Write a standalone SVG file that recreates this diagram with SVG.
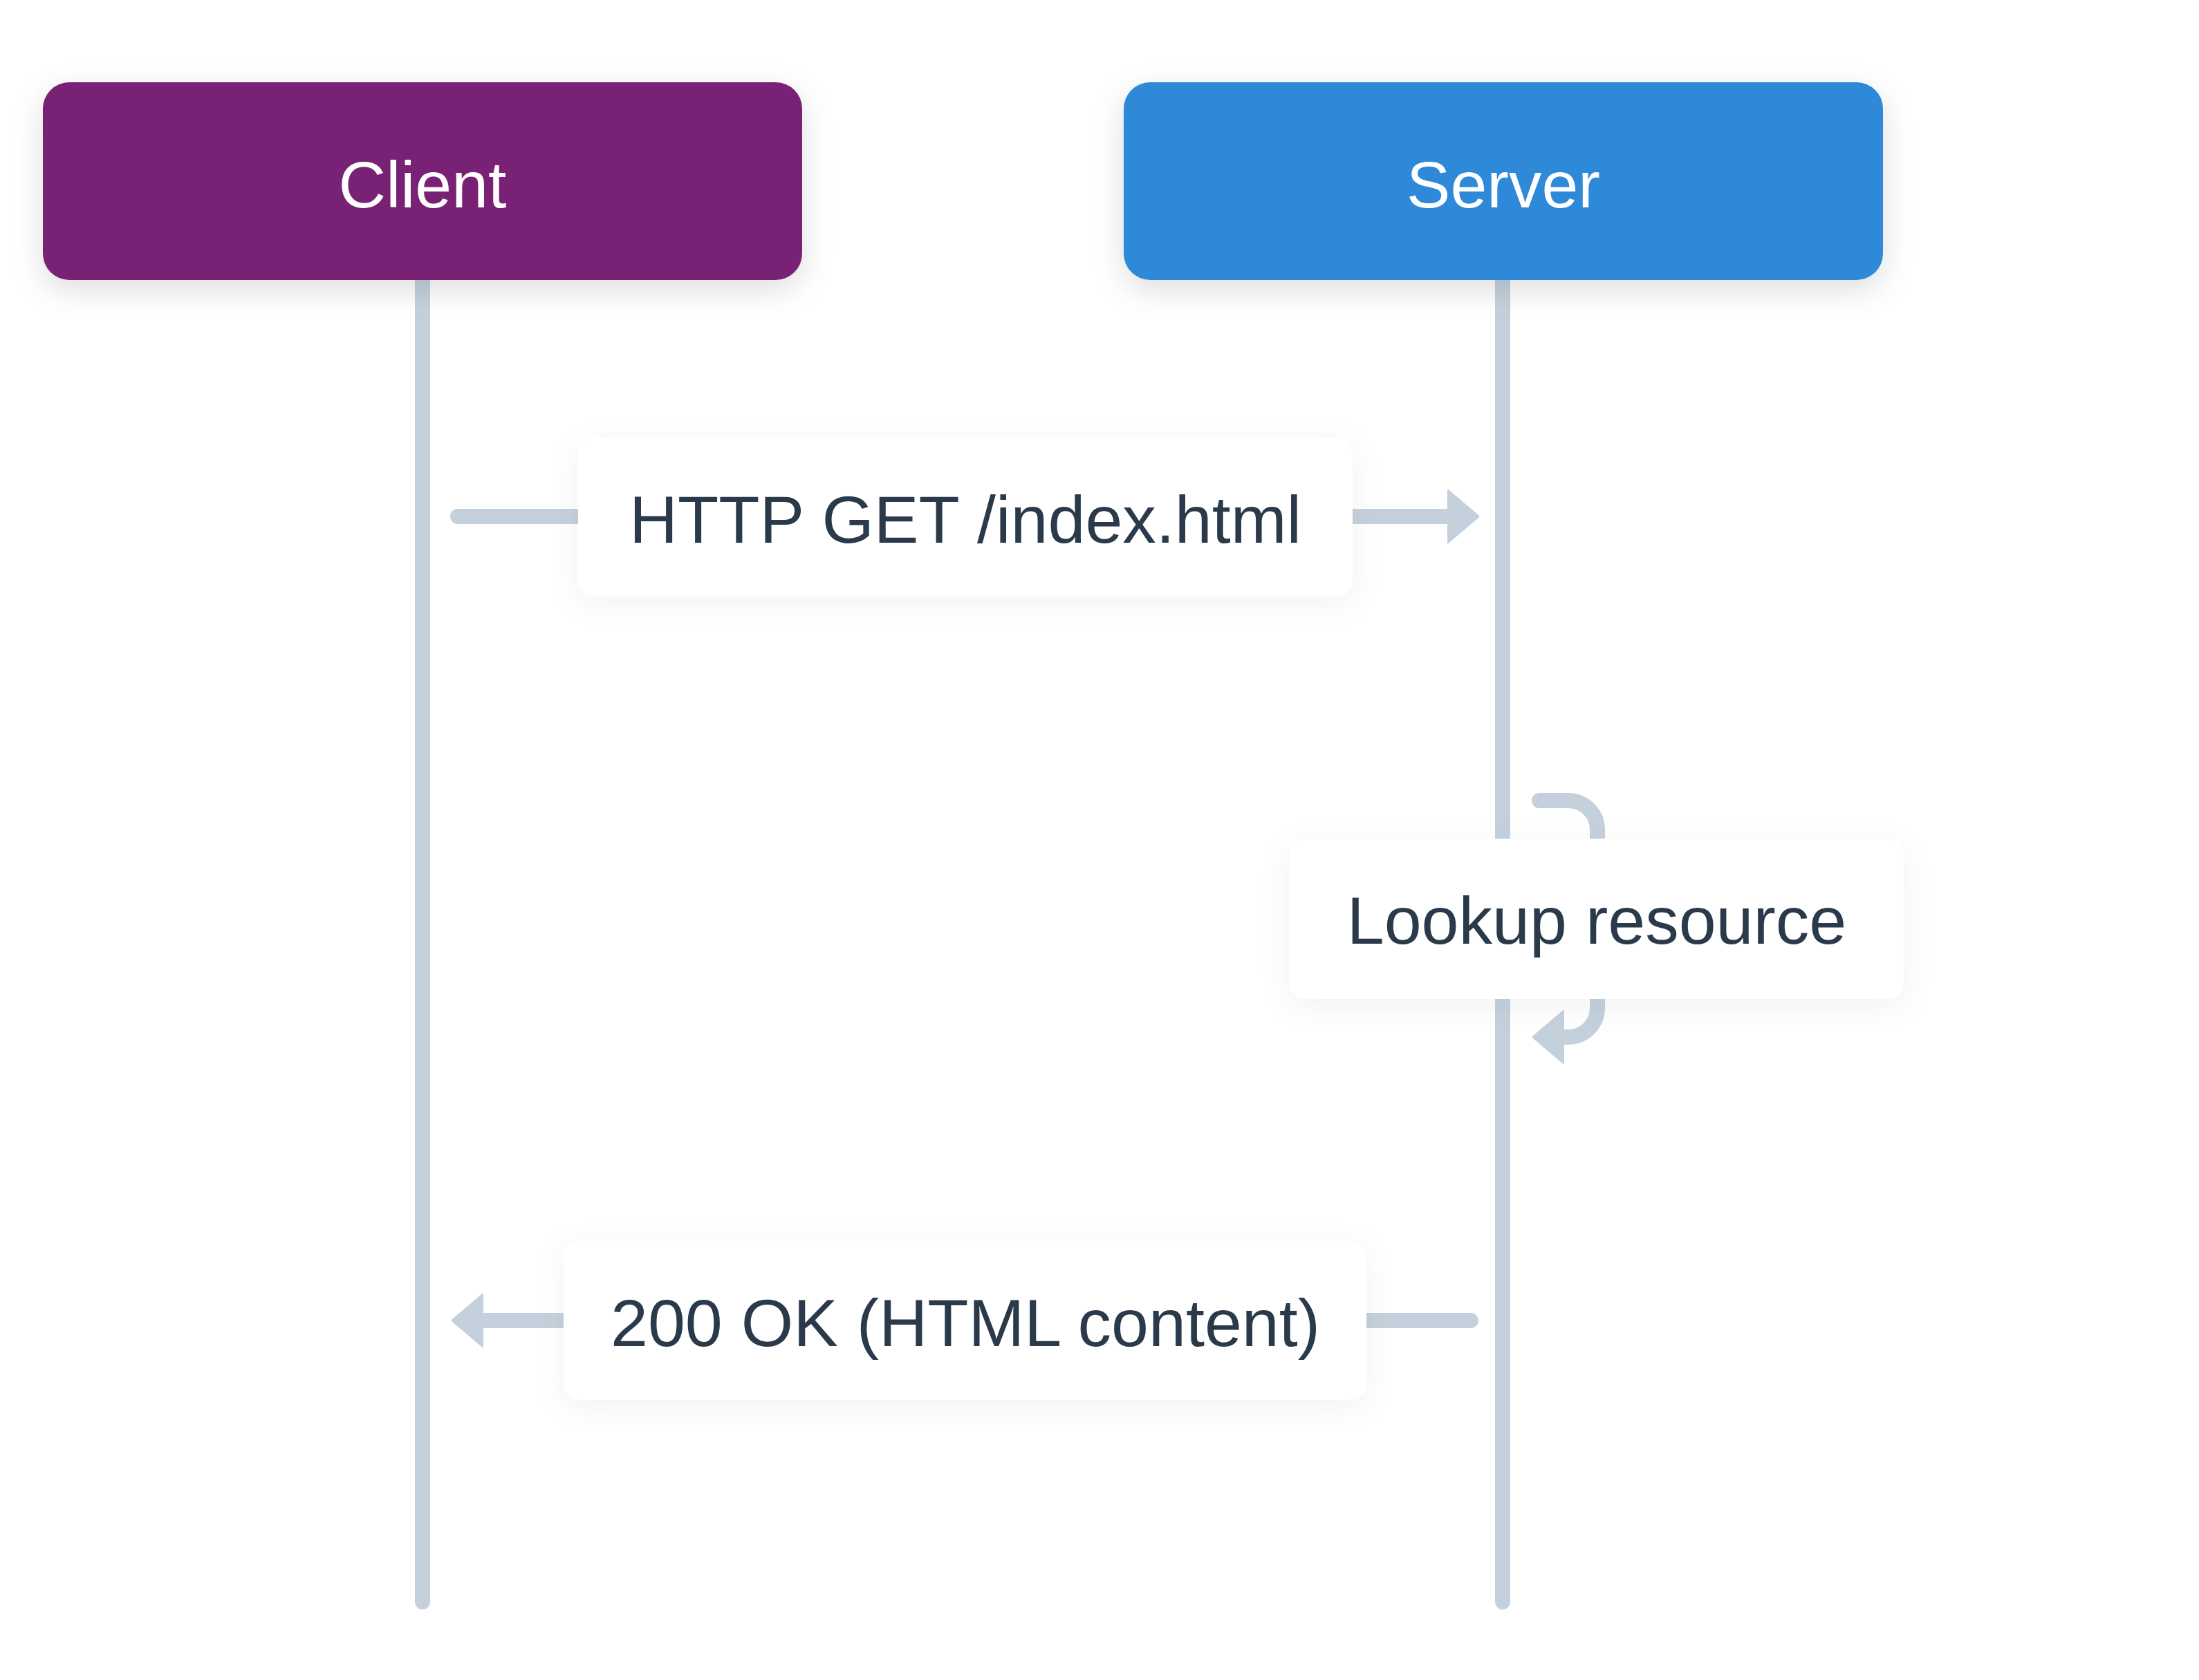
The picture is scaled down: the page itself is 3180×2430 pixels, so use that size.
<svg xmlns="http://www.w3.org/2000/svg" width="3180" height="2430" viewBox="0 0 3180 2430">
  <style>
    .title { font-family: "Liberation Sans", Arial, sans-serif; font-size: 95px; fill: #ffffff; text-anchor: middle; }
    .lbl { font-family: "Liberation Sans", Arial, sans-serif; font-size: 97px; fill: #2a3a4b; text-anchor: middle; }
    .life { stroke: #c4d1dc; stroke-width: 22; stroke-linecap: round; fill: none; }
    .msg { stroke: #c4d1dc; stroke-width: 22; stroke-linecap: round; stroke-linejoin: round; fill: none; marker-end: url(#arrow); }
    .lblbox { fill: #ffffff; filter: url(#softShadow); }
  </style>
  <defs>
    <filter id="boxShadow" x="-20%" y="-40%" width="140%" height="190%">
      <feDropShadow dx="0" dy="14" stdDeviation="22" flood-color="#000000" flood-opacity="0.13"/>
    </filter>
    <filter id="softShadow" x="-20%" y="-50%" width="140%" height="200%">
      <feDropShadow dx="0" dy="10" stdDeviation="22" flood-color="#000000" flood-opacity="0.05"/>
    </filter>
    <marker id="arrow" viewBox="0 0 46 78" refX="1" refY="39" markerWidth="46" markerHeight="78" markerUnits="userSpaceOnUse" orient="auto">
      <path d="M0 0 L46 39 L0 78 Z" fill="#c4d1dc" stroke="#c4d1dc" stroke-width="2" stroke-linejoin="round"/>
    </marker>
  </defs>
  <rect x="0" y="0" width="3180" height="2430" fill="#ffffff"/>

  <g id="lifelines">
    <line class="life" x1="611" y1="405" x2="611" y2="2317"/>
    <line class="life" x1="2173" y1="405" x2="2173" y2="2317"/>
  </g>

  <g id="connectors">
    <path id="msg-get" class="msg" d="M662 747 H2094"/>
    <path id="msg-lookup" class="msg" d="M2226 1158 H2268 A42 42 0 0 1 2310 1200 V1458 A42 42 0 0 1 2268 1500 H2261"/>
    <path id="msg-ok" class="msg" d="M2127 1910 H698"/>
  </g>

  <g id="label-get">
    <rect class="lblbox" x="836" y="633" width="1120" height="230" rx="24"/>
    <text class="lbl" x="1396" y="785">HTTP GET /index.html</text>
  </g>
  <g id="label-lookup">
    <rect class="lblbox" x="1864" y="1213" width="889" height="232" rx="24"/>
    <text class="lbl" x="2309" y="1365">Lookup resource</text>
  </g>
  <g id="label-ok">
    <rect class="lblbox" x="815" y="1795" width="1161" height="230" rx="24"/>
    <text class="lbl" x="1396" y="1947">200 OK (HTML content)</text>
  </g>

  <g id="client">
    <rect x="62" y="119" width="1098" height="286" rx="38" fill="#792475" filter="url(#boxShadow)"/>
    <text class="title" x="611" y="300">Client</text>
  </g>
  <g id="server">
    <rect x="1625" y="119" width="1098" height="286" rx="38" fill="#2e89d9" filter="url(#boxShadow)"/>
    <text class="title" x="2174" y="300">Server</text>
  </g>
</svg>
